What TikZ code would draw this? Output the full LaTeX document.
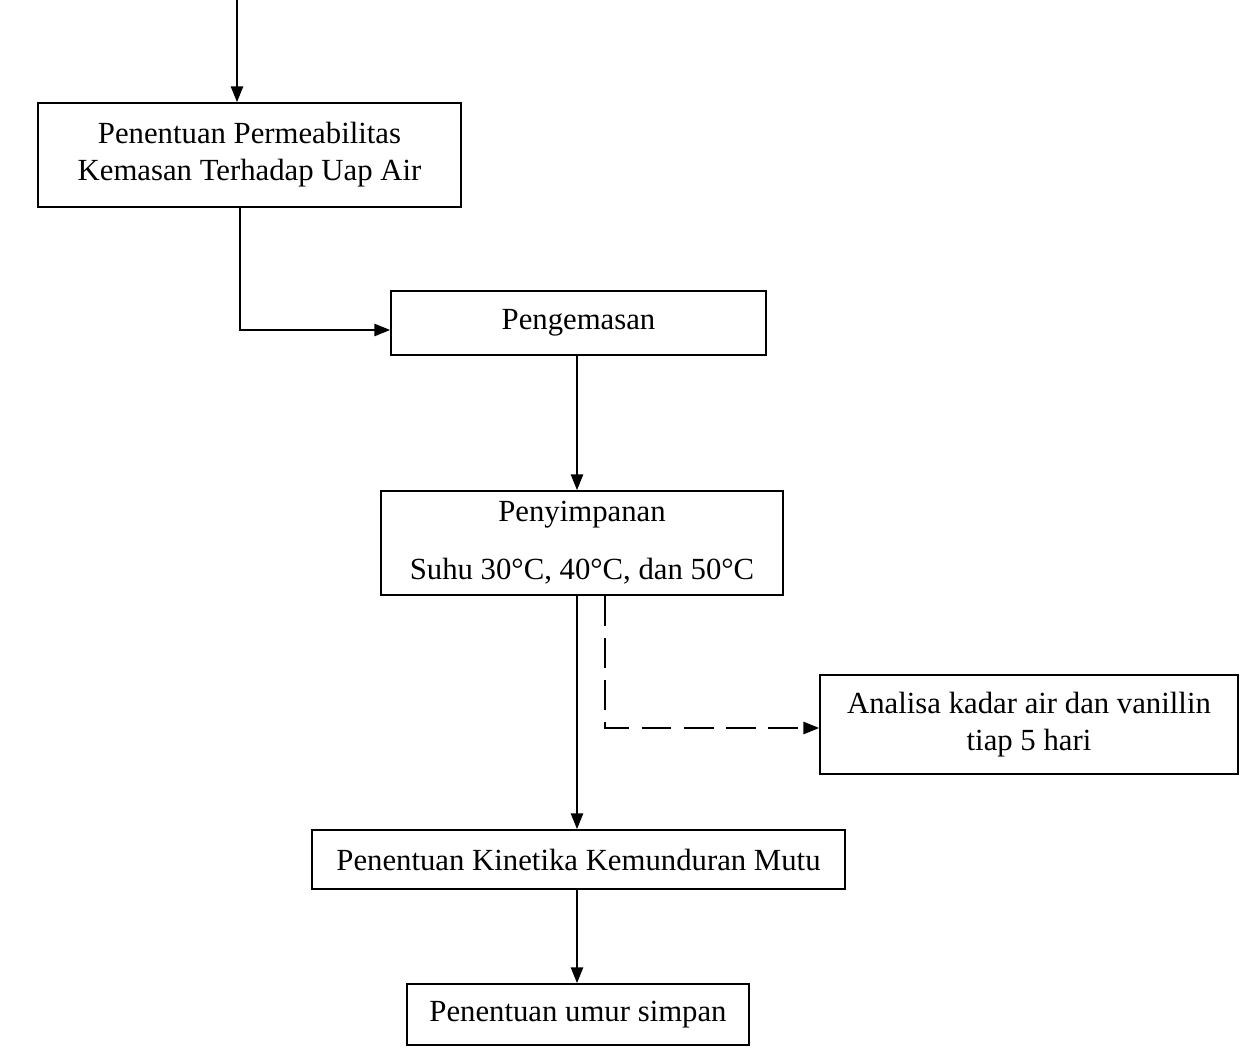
\documentclass[tikz,border=0pt]{standalone}
\usepackage{fontspec}
\setmainfont{Liberation Serif}
\usepackage{tikz}
\usetikzlibrary{arrows.meta}
\usetikzlibrary{calc}

\begin{document}
\begin{tikzpicture}[x=0.02cm,y=-0.02cm,->,>={Triangle[length=9pt,width=7pt]},line width=1pt,
        box/.style={rectangle,draw=black,line width=1pt,align=center,inner sep=0pt,
          font=\fontsize{17.5}{21}\selectfont}]
        \useasboundingbox (0,0) rectangle (1240,1053);
        \node[box,minimum width=8.46cm,minimum height=2.08cm] (perm) at (249.5,155)
          {Penentuan Permeabilitas\\Kemasan Terhadap Uap Air};
        \node[box,minimum width=7.5cm,minimum height=1.28cm] (kemas) at (578.5,323) {Pengemasan};
        \node[box,minimum width=8.04cm,minimum height=2.08cm] (simpan) at (582,543)
          {Penyimpanan\\[12pt]Suhu 30°C, 40°C, dan 50°C};
        \node[box,minimum width=8.36cm,minimum height=1.98cm] (analisa) at (1029,724.5)
          {Analisa kadar air dan vanillin\\tiap 5 hari};
        \node[box,minimum width=10.66cm,minimum height=1.18cm] (kinetika) at (578.5,859.5)
          {Penentuan Kinetika Kemunduran Mutu};
        \node[box,minimum width=6.84cm,minimum height=1.22cm] (umur) at (578,1014.5)
          {Penentuan umur simpan};
        \coordinate (in) at (237,0);
        \coordinate (mid) at (577,0);
        \coordinate (side) at (605,0);
        \draw (in) -- (in |- perm.north);
        \draw (perm.south -| 240,0) |- ([yshift=-0.14cm]kemas.west);
        \draw (kemas.south -| mid) -- (simpan.north -| mid);
        \draw (simpan.south -| mid) -- (kinetika.north -| mid);
        \draw[dash pattern=on 17pt off 7pt] (simpan.south -| side) |- ([yshift=-0.07cm]analisa.west);
        \draw (kinetika.south -| mid) -- (umur.north -| mid);
      \end{tikzpicture}
\end{document}
